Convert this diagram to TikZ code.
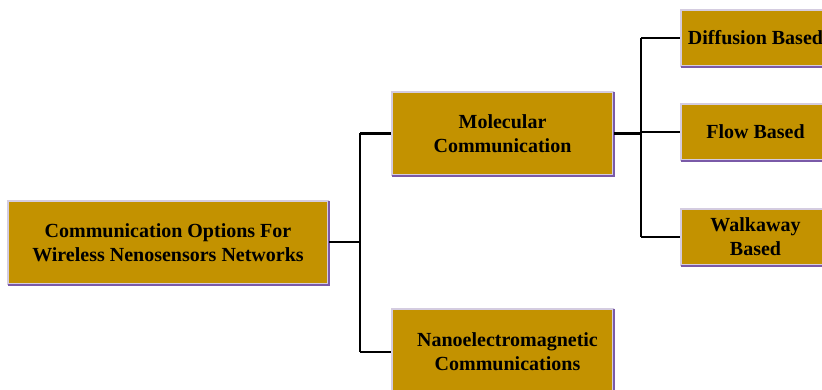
\documentclass[tikz,border=0pt]{standalone}
\usepackage{fontspec}
\setmainfont{Liberation Serif}
\begin{document}
\begin{tikzpicture}[x=1pt,y=-1pt,
  boxfont/.style={align=center, inner sep=0pt, font=\bfseries\fontsize{20}{24}\selectfont, text=black},
  box/.style={rectangle, fill=boxgold, draw=boxedge, line width=2.6pt, boxfont},
  link/.style={draw=black, line width=2.1pt}]
\definecolor{boxgold}{HTML}{C39200}
\definecolor{boxedge}{HTML}{D4CCE0}
\definecolor{boxpurple}{HTML}{7A5AA8}
\useasboundingbox (0,0) rectangle (822,390);
\clip (0,0) rectangle (822,390);
\node[box, minimum width=320pt, minimum height=83pt] (root) at (168,242.5)
  {Communication Options For\\Wireless Nenosensors Networks};
\node[box, minimum width=221pt, minimum height=83pt] (mol) at (502.5,133.5)
  {Molecular\\Communication};
\node[box, minimum width=221pt, minimum height=86pt] (nano) at (502.5,352) {};
\node[boxfont] (nanotext) at ([xshift=5pt]nano.center)
  {Nanoelectromagnetic\\Communications};
\node[box, minimum width=149pt, minimum height=56pt] (dif) at (755.5,38)
  {Diffusion Based};
\node[box, minimum width=149pt, minimum height=56pt] (flow) at (755.5,132)
  {Flow Based};
\node[box, minimum width=149pt, minimum height=56pt] (walk) at (755.5,237)
  {Walkaway\\Based};
\foreach \n in {root,mol,nano,dif,flow,walk}
  \draw[boxpurple, line width=1.8pt] ([yshift=-1pt]\n.north east) -- (\n.south east) -- ([xshift=1pt]\n.south west);
\coordinate (j1) at (360,242);
\coordinate (j2) at (641,133);
\draw[link] (root.east |- j1) -- (j1);
\draw[link] (j1 |- mol.west) -- (j1 |- nano.west);
\draw[link] (j1 |- mol.west) -- (mol.west);
\draw[link] (j1 |- nano.west) -- (nano.west);
\draw[link] (mol.east) -- (j2 |- mol.east);
\draw[link] (j2 |- dif.west) -- (j2 |- walk.west);
\draw[link] (j2 |- dif.west) -- (dif.west);
\draw[link] (j2 |- flow.west) -- (flow.west);
\draw[link] (j2 |- walk.west) -- (walk.west);
\end{tikzpicture}
\end{document}
